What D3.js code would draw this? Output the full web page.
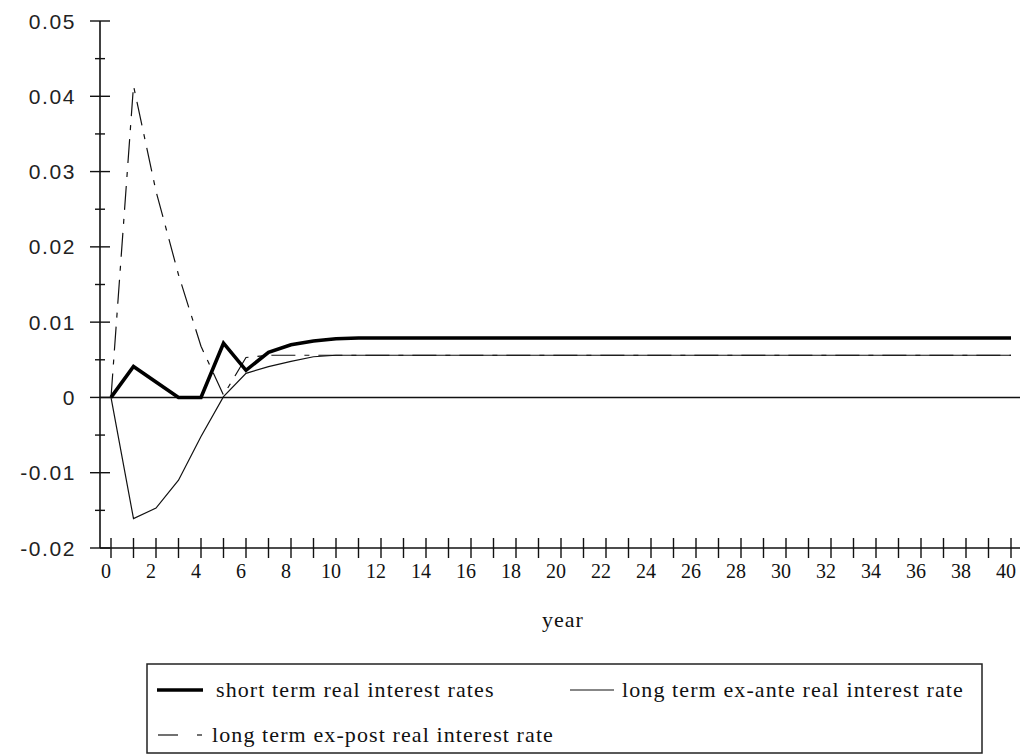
<!DOCTYPE html>
<html>
<head>
<meta charset="utf-8">
<script src="https://cdn.jsdelivr.net/npm/d3@7"></script>
<style>
  html, body { margin: 0; padding: 0; background: #fff; }
  svg { display: block; }
</style>
</head>
<body>
<svg id="chart" width="1024" height="756"></svg>
<script>
// ---------- data ----------
const years = d3.range(0, 41);
const shortTerm = [0, 0.0041, 0.00205, 0, 0, 0.0072, 0.0036, 0.0060, 0.0070, 0.0075, 0.0078,
  0.0079, 0.0079, 0.0079, 0.0079, 0.0079, 0.0079, 0.0079, 0.0079, 0.0079, 0.0079,
  0.0079, 0.0079, 0.0079, 0.0079, 0.0079, 0.0079, 0.0079, 0.0079, 0.0079, 0.0079,
  0.0079, 0.0079, 0.0079, 0.0079, 0.0079, 0.0079, 0.0079, 0.0079, 0.0079, 0.0079];
const exAnte = [0, -0.0161, -0.0147, -0.0110, -0.0052, 0.0001, 0.0032, 0.0041, 0.0048, 0.0054, 0.0056,
  0.0056, 0.0056, 0.0056, 0.0056, 0.0056, 0.0056, 0.0056, 0.0056, 0.0056, 0.0056,
  0.0056, 0.0056, 0.0056, 0.0056, 0.0056, 0.0056, 0.0056, 0.0056, 0.0056, 0.0056,
  0.0056, 0.0056, 0.0056, 0.0056, 0.0056, 0.0056, 0.0056, 0.0056, 0.0056, 0.0056];
const exPost = [0, 0.0414, 0.0274, 0.0163, 0.0068, 0.0003, 0.0053, 0.0056, 0.0056, 0.0056, 0.0056,
  0.0056, 0.0056, 0.0056, 0.0056, 0.0056, 0.0056, 0.0056, 0.0056, 0.0056, 0.0056,
  0.0056, 0.0056, 0.0056, 0.0056, 0.0056, 0.0056, 0.0056, 0.0056, 0.0056, 0.0056,
  0.0056, 0.0056, 0.0056, 0.0056, 0.0056, 0.0056, 0.0056, 0.0056, 0.0056, 0.0056];
const yTickValues = [-0.02, -0.01, 0, 0.01, 0.02, 0.03, 0.04, 0.05];
const yTickLabels = ["-0.02", "-0.01", "0", "0.01", "0.02", "0.03", "0.04", "0.05"];
const yMinorValues = [-0.015, -0.005, 0.005, 0.015, 0.025, 0.035, 0.045];
const xTickValues = d3.range(0, 41);
const xLabelValues = d3.range(0, 41, 2);
const xTitle = "year";
const seriesNames = ["short term real interest rates", "long term ex-ante real interest rate", "long term ex-post real interest rate"];

// ---------- layout ----------
const svg = d3.select("#chart");
const x = d3.scaleLinear().domain([0, 40]).range([111, 1011]);
const y = d3.scaleLinear().domain([-0.02, 0.05]).range([548, 21]);
const axisX0 = 100, axisX1 = 1020;
const serif = "'Liberation Serif', 'Times New Roman', serif";
const sans = "'Liberation Sans', Arial, sans-serif";

// zero line
svg.append("line")
  .attr("x1", axisX0).attr("x2", axisX1)
  .attr("y1", y(0)).attr("y2", y(0))
  .attr("stroke", "#111").attr("stroke-width", 1.4);

// y axis
svg.append("line")
  .attr("x1", axisX0).attr("x2", axisX0)
  .attr("y1", y(0.05)).attr("y2", y(-0.02))
  .attr("stroke", "#111").attr("stroke-width", 1.6);
svg.selectAll(".ymaj").data(yTickValues).join("line")
  .attr("x1", axisX0 - 10).attr("x2", axisX0 + 10)
  .attr("y1", d => y(d)).attr("y2", d => y(d))
  .attr("stroke", "#111").attr("stroke-width", 1.4);
svg.selectAll(".ymin").data(yMinorValues).join("line")
  .attr("x1", axisX0 - 5).attr("x2", axisX0 + 5)
  .attr("y1", d => y(d)).attr("y2", d => y(d))
  .attr("stroke", "#111").attr("stroke-width", 1.4);
svg.selectAll(".ylab").data(yTickValues).join("text")
  .attr("x", 76).attr("y", d => y(d))
  .attr("dy", "0.36em")
  .attr("text-anchor", "end")
  .attr("font-family", sans).attr("font-size", 21)
  .attr("letter-spacing", 1.6)
  .attr("fill", "#222")
  .text((d, i) => yTickLabels[i]);

// x axis
svg.append("line")
  .attr("x1", axisX0).attr("x2", axisX1)
  .attr("y1", y(-0.02)).attr("y2", y(-0.02))
  .attr("stroke", "#111").attr("stroke-width", 1.6);
svg.selectAll(".xt").data(xTickValues).join("line")
  .attr("x1", d => x(d)).attr("x2", d => x(d))
  .attr("y1", y(-0.02) - 10).attr("y2", y(-0.02) + 10)
  .attr("stroke", "#111").attr("stroke-width", 1.4);
svg.selectAll(".xlab").data(xLabelValues).join("text")
  .attr("x", d => x(d) - 5).attr("y", 578)
  .attr("text-anchor", "middle")
  .attr("font-family", serif).attr("font-size", 20)
  .attr("fill", "#111")
  .text(d => d);

svg.append("text")
  .attr("x", 563).attr("y", 627)
  .attr("text-anchor", "middle")
  .attr("font-family", serif).attr("font-size", 22)
  .attr("letter-spacing", 1)
  .attr("fill", "#111")
  .text(xTitle);

// series
const line = d3.line().x((d, i) => x(years[i])).y(d => y(d));
svg.append("path").datum(exAnte).attr("d", line)
  .attr("fill", "none").attr("stroke", "#111").attr("stroke-width", 1.2);
svg.append("path").datum(exPost).attr("d", line)
  .attr("fill", "none").attr("stroke", "#111").attr("stroke-width", 1.2)
  .attr("stroke-dasharray", "24,9,5,9");
svg.append("path").datum(shortTerm).attr("d", line)
  .attr("fill", "none").attr("stroke", "#000").attr("stroke-width", 3.6)
  .attr("stroke-linejoin", "miter");

// legend
svg.append("rect")
  .attr("x", 147).attr("y", 664).attr("width", 835).attr("height", 89)
  .attr("fill", "none").attr("stroke", "#222").attr("stroke-width", 1.5);
svg.append("line").attr("x1", 157).attr("x2", 203).attr("y1", 690).attr("y2", 690)
  .attr("stroke", "#000").attr("stroke-width", 3.6);
svg.append("line").attr("x1", 570).attr("x2", 614).attr("y1", 690).attr("y2", 690)
  .attr("stroke", "#111").attr("stroke-width", 1.2);
svg.append("line").attr("x1", 158).attr("x2", 178).attr("y1", 735).attr("y2", 735)
  .attr("stroke", "#111").attr("stroke-width", 1.2);
svg.append("line").attr("x1", 197).attr("x2", 202).attr("y1", 735).attr("y2", 735)
  .attr("stroke", "#111").attr("stroke-width", 1.2);
const legendPos = [[216, 697], [622, 697], [212, 742]];
svg.selectAll(".leg").data(seriesNames).join("text")
  .attr("x", (d, i) => legendPos[i][0]).attr("y", (d, i) => legendPos[i][1])
  .attr("font-family", serif).attr("font-size", 22)
  .attr("letter-spacing", 1.1)
  .attr("fill", "#111")
  .text(d => d);
</script>
</body>
</html>
